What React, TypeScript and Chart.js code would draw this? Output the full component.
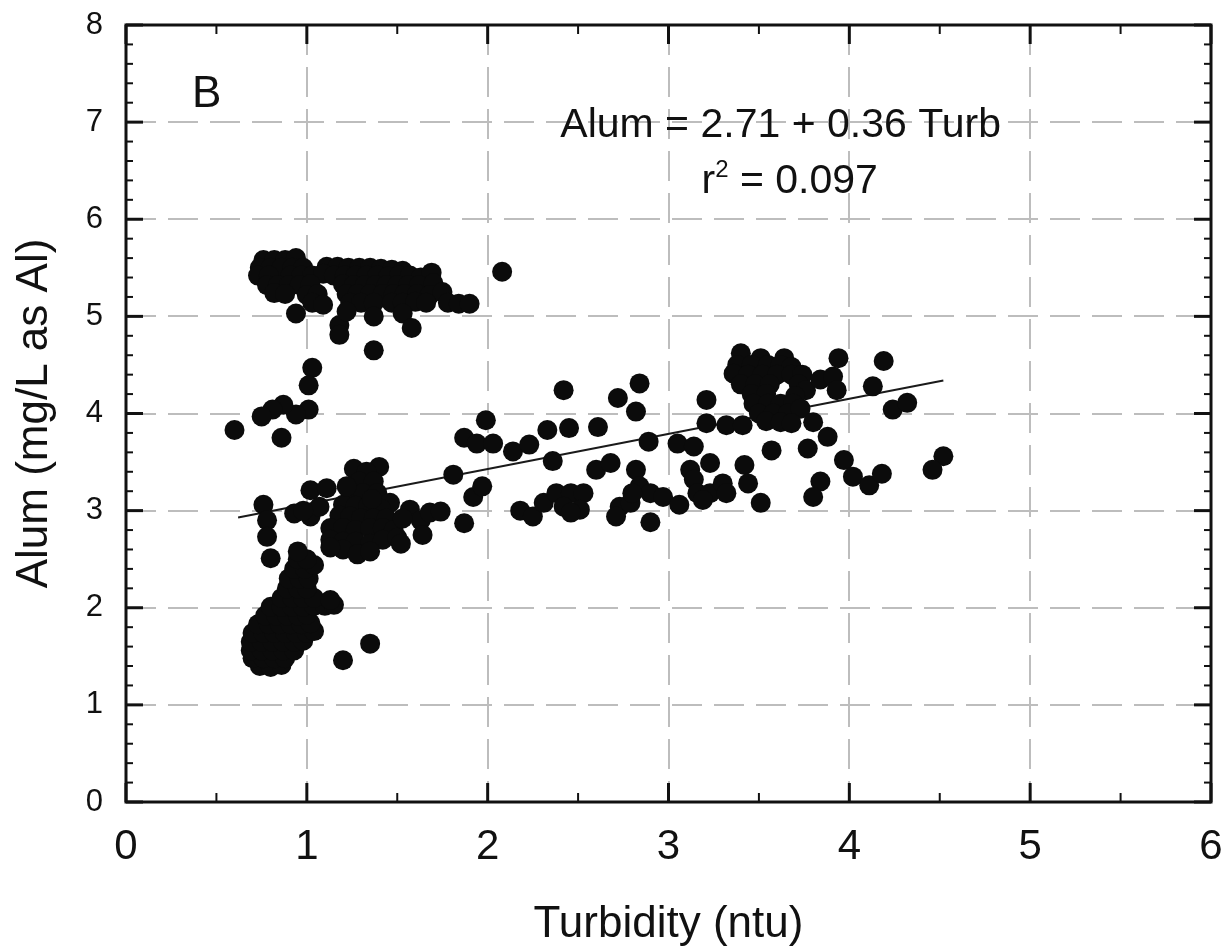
import React, { useEffect, useRef } from 'react';
import { Chart, registerables } from 'chart.js';

Chart.register(...registerables);

// ---- Data (Turbidity ntu, Alum mg/L as Al) ----
const highAlumBand: [number, number][] = [
  [0.76, 5.58], [0.82, 5.58], [0.88, 5.58], [0.94, 5.60],
  [0.74, 5.50], [0.80, 5.50], [0.86, 5.50], [0.92, 5.50], [0.98, 5.50], [1.11, 5.51], [1.17, 5.51],
  [1.23, 5.50], [1.29, 5.50], [1.35, 5.50], [1.41, 5.49], [1.47, 5.48], [1.53, 5.47],
  [0.73, 5.42], [0.79, 5.42], [0.91, 5.42], [0.97, 5.42], [1.03, 5.42], [1.09, 5.44], [1.15, 5.42],
  [1.21, 5.42], [1.27, 5.42], [1.33, 5.42], [1.39, 5.42], [1.45, 5.41], [1.51, 5.42], [1.57, 5.42],
  [1.63, 5.40], [1.69, 5.45],
  [0.78, 5.32], [0.84, 5.32], [0.90, 5.32], [0.96, 5.32], [1.02, 5.33], [1.20, 5.33], [1.26, 5.32],
  [1.32, 5.32], [1.38, 5.32], [1.44, 5.32], [1.50, 5.32], [1.56, 5.32], [1.62, 5.32], [1.70, 5.34],
  [0.82, 5.24], [0.88, 5.23], [1.00, 5.22], [1.06, 5.23], [1.22, 5.23], [1.28, 5.23], [1.35, 5.23],
  [1.42, 5.23], [1.48, 5.23], [1.54, 5.23], [1.61, 5.23], [1.68, 5.22], [1.75, 5.25],
  [1.03, 5.14], [1.09, 5.12], [1.24, 5.14], [1.30, 5.14], [1.37, 5.14], [1.47, 5.14], [1.53, 5.14],
  [1.60, 5.15], [1.66, 5.14], [1.78, 5.14], [1.84, 5.13], [1.90, 5.13],
  [0.94, 5.03], [1.18, 4.91], [1.18, 4.81], [1.22, 5.05], [1.37, 5.00], [1.53, 5.03], [1.58, 4.88],
  [1.37, 4.65], [2.08, 5.46],
];

const midLeftGroup: [number, number][] = [
  [1.03, 4.47], [1.01, 4.29], [1.01, 4.04], [0.94, 3.99], [0.87, 4.09], [0.81, 4.04], [0.75, 3.97],
  [0.60, 3.83], [0.86, 3.75],
];

const lowAlumBlob: [number, number][] = [
  [0.74, 1.40], [0.80, 1.39], [0.86, 1.41],
  [0.70, 1.48], [0.76, 1.48], [0.82, 1.48], [0.88, 1.48],
  [0.69, 1.56], [0.75, 1.56], [0.81, 1.56], [0.87, 1.56], [0.93, 1.56],
  [0.69, 1.65], [0.75, 1.65], [0.81, 1.65], [0.87, 1.65], [0.93, 1.65], [0.98, 1.66],
  [0.70, 1.74], [0.76, 1.74], [0.82, 1.74], [0.88, 1.74], [0.94, 1.74], [1.00, 1.74], [1.04, 1.76],
  [0.73, 1.83], [0.79, 1.83], [0.85, 1.83], [0.91, 1.83], [0.97, 1.83], [1.02, 1.84],
  [0.77, 1.92], [0.83, 1.92], [0.89, 1.92], [0.95, 1.92], [1.00, 1.93],
  [0.80, 2.01], [0.86, 2.01], [0.92, 2.01], [0.98, 2.01], [1.04, 2.02], [1.10, 2.02], [1.15, 2.03],
  [0.86, 2.10], [0.92, 2.10], [0.98, 2.10], [1.04, 2.10], [1.13, 2.08],
  [0.89, 2.20], [0.95, 2.20], [1.00, 2.20],
  [0.90, 2.30], [0.96, 2.30], [1.01, 2.30],
  [0.93, 2.40], [0.99, 2.40], [1.04, 2.44],
  [0.95, 2.50], [1.00, 2.50], [0.95, 2.58],
  [1.35, 1.63], [1.20, 1.46],
];

const nearFitLeft: [number, number][] = [
  [0.76, 3.06], [0.78, 2.90], [0.78, 2.73], [0.80, 2.51],
  [1.02, 3.21], [1.11, 3.23], [0.93, 2.97], [1.02, 2.94], [1.07, 3.04], [0.98, 3.00],
];

const centralBlob: [number, number][] = [
  [1.26, 3.43], [1.40, 3.45], [1.33, 3.40], [1.29, 3.30], [1.37, 3.30], [1.24, 3.18], [1.31, 3.18],
  [1.39, 3.18], [1.46, 3.08], [1.20, 3.06], [1.27, 3.05], [1.34, 3.05], [1.41, 3.02], [1.18, 2.95],
  [1.24, 2.94], [1.30, 2.92], [1.37, 2.92], [1.44, 2.92], [1.13, 2.82], [1.20, 2.82], [1.27, 2.80],
  [1.35, 2.82], [1.42, 2.82], [1.48, 2.80], [1.13, 2.70], [1.20, 2.68], [1.27, 2.68], [1.35, 2.66],
  [1.42, 2.70], [1.50, 2.72], [1.20, 2.60], [1.28, 2.55], [1.35, 2.58], [1.13, 2.62], [1.22, 3.25],
  [1.36, 3.12],
  [1.57, 3.01], [1.63, 2.90], [1.64, 2.75], [1.52, 2.66], [1.53, 2.92], [1.68, 2.98], [1.74, 2.99],
  [1.87, 2.87], [1.81, 3.37], [1.92, 3.14], [1.97, 3.25],
];

const midRange: [number, number][] = [
  [1.99, 3.93], [1.87, 3.75], [1.94, 3.69], [2.03, 3.69], [2.14, 3.61], [2.23, 3.68], [2.33, 3.83],
  [2.36, 3.51], [2.18, 3.00], [2.25, 2.94], [2.31, 3.08],
  [2.42, 4.24], [2.45, 3.85], [2.61, 3.86], [2.72, 4.16], [2.84, 4.31], [2.82, 4.02], [2.60, 3.42],
  [2.68, 3.49], [2.38, 3.18], [2.46, 3.18], [2.53, 3.18], [2.42, 3.04], [2.51, 3.01], [2.46, 2.98],
  [2.82, 3.42], [2.84, 3.25], [2.90, 3.18], [2.73, 3.04], [2.71, 2.94], [2.79, 3.08], [2.90, 2.88],
  [2.97, 3.14], [3.06, 3.06], [2.80, 3.18],
];

const highTurbidity: [number, number][] = [
  [2.89, 3.71], [3.05, 3.69], [3.14, 3.66], [3.12, 3.42], [3.23, 3.49], [3.14, 3.32], [3.16, 3.18],
  [3.23, 3.18], [3.30, 3.28], [3.32, 3.18], [3.19, 3.11], [3.42, 3.47], [3.44, 3.28], [3.51, 3.08],
  [3.57, 3.62], [3.21, 4.14], [3.21, 3.90], [3.32, 3.88], [3.41, 3.88],
  [3.40, 4.62], [3.51, 4.57], [3.64, 4.57],
  [3.38, 4.50], [3.46, 4.50], [3.55, 4.50], [3.62, 4.50], [3.68, 4.48],
  [3.36, 4.41], [3.44, 4.40], [3.52, 4.40], [3.60, 4.40], [3.68, 4.40], [3.74, 4.40],
  [3.40, 4.30], [3.48, 4.30], [3.56, 4.30], [3.72, 4.30], [3.76, 4.24],
  [3.46, 4.20], [3.54, 4.20], [3.70, 4.18],
  [3.47, 4.10], [3.55, 4.10], [3.62, 4.10], [3.69, 4.10],
  [3.50, 4.00], [3.58, 4.00], [3.66, 4.00], [3.73, 4.05],
  [3.54, 3.92], [3.62, 3.91], [3.68, 3.90],
  [3.84, 4.35], [3.91, 4.38], [3.94, 4.57], [3.93, 4.24], [3.80, 3.91], [3.88, 3.76], [3.77, 3.64],
  [3.97, 3.52], [4.02, 3.35], [4.11, 3.26], [4.18, 3.38], [3.84, 3.30], [3.80, 3.14], [4.19, 4.54],
  [4.13, 4.28], [4.24, 4.04], [4.32, 4.11], [4.52, 3.56], [4.46, 3.42],
];

// regression line endpoints: Alum = 2.71 + 0.36 Turb
const fitLine: [number, number][] = [[0.62, 2.93], [4.52, 4.34]];

const xTickValues = [0, 1, 2, 3, 4, 5, 6];
const yTickValues = [0, 1, 2, 3, 4, 5, 6, 7, 8];

const FONT = '"Liberation Sans", Arial, Helvetica, sans-serif';

const allPoints = [
  ...highAlumBand, ...midLeftGroup, ...lowAlumBlob, ...nearFitLeft,
  ...centralBlob, ...midRange, ...highTurbidity,
];

const framePlugin = {
  id: 'frameTicks',
  afterDraw(chart: any) {
    const { ctx, chartArea: a, scales } = chart;
    const xs = scales.x;
    const ys = scales.y;
    ctx.save();
    ctx.strokeStyle = '#111';
    ctx.lineCap = 'butt';
    const seg = (x1: number, y1: number, x2: number, y2: number, w: number) => {
      ctx.lineWidth = w;
      ctx.beginPath();
      ctx.moveTo(x1, y1);
      ctx.lineTo(x2, y2);
      ctx.stroke();
    };
    // x ticks (inward, bottom and top)
    for (let i = 0; i <= 12; i++) {
      const v = i / 2;
      const p = xs.getPixelForValue(v);
      const major = i % 2 === 0;
      const len = major ? 19 : 9;
      const w = major ? 3 : 2;
      seg(p, a.bottom, p, a.bottom - len, w);
      seg(p, a.top, p, a.top + len, w);
    }
    // y ticks (inward, left and right)
    for (let i = 0; i <= 40; i++) {
      const v = i / 5;
      const p = ys.getPixelForValue(v);
      const major = i % 5 === 0;
      const len = major ? 17 : 7;
      const w = major ? 3 : 2;
      seg(a.left, p, a.left + len, p, w);
      seg(a.right, p, a.right - len, p, w);
    }
    // frame
    ctx.lineWidth = 3;
    ctx.strokeRect(a.left, a.top, a.right - a.left, a.bottom - a.top);

    // annotations
    ctx.fillStyle = '#111';
    ctx.textBaseline = 'alphabetic';
    ctx.font = `44px ${FONT}`;
    ctx.textAlign = 'left';
    ctx.fillText('B', xs.getPixelForValue(0.365), ys.getPixelForValue(7.16));

    ctx.font = `41px ${FONT}`;
    ctx.textAlign = 'center';
    ctx.fillText('Alum = 2.71 + 0.36 Turb', xs.getPixelForValue(3.62), ys.getPixelForValue(6.85));

    // r² = 0.097
    const rText = 'r';
    const supText = '2';
    const restText = ' = 0.097';
    ctx.font = `41px ${FONT}`;
    const wr = ctx.measureText(rText).width;
    const wrest = ctx.measureText(restText).width;
    ctx.font = `24px ${FONT}`;
    const ws = ctx.measureText(supText).width;
    const total = wr + ws + wrest;
    const cx = xs.getPixelForValue(3.67);
    const base = ys.getPixelForValue(6.27);
    let x0 = cx - total / 2;
    ctx.textAlign = 'left';
    ctx.font = `41px ${FONT}`;
    ctx.fillText(rText, x0, base);
    x0 += wr;
    ctx.font = `24px ${FONT}`;
    ctx.fillText(supText, x0, base - 16);
    x0 += ws;
    ctx.font = `41px ${FONT}`;
    ctx.fillText(restText, x0, base);
    ctx.restore();
  },
};

export default function App() {
  const canvasRef = useRef<HTMLCanvasElement | null>(null);

  useEffect(() => {
    const canvas = canvasRef.current;
    if (!canvas) return;
    const chart = new Chart(canvas, {
      type: 'scatter',
      data: {
        datasets: [
          {
            type: 'line',
            label: 'Regression',
            data: fitLine.map(([x, y]) => ({ x, y })),
            borderColor: '#1a1a1a',
            borderWidth: 2,
            pointRadius: 0,
            fill: false,
            order: 2,
          } as any,
          {
            label: 'Observations',
            data: allPoints.map(([x, y]) => ({ x, y })),
            backgroundColor: '#0b0b0b',
            borderColor: '#0b0b0b',
            borderWidth: 0,
            pointRadius: 10,
            pointHoverRadius: 10,
            order: 1,
          },
        ],
      },
      options: {
        responsive: false,
        animation: false,
        devicePixelRatio: 1,
        layout: { padding: { top: 25, right: 11, left: 0, bottom: 0 } },
        plugins: {
          legend: { display: false },
          tooltip: { enabled: false },
        },
        scales: {
          x: {
            type: 'linear',
            min: 0,
            max: 6,
            afterBuildTicks: (s: any) => {
              s.ticks = xTickValues.map((v) => ({ value: v }));
            },
            ticks: {
              padding: 20,
              color: '#111',
              font: { family: FONT, size: 42 },
              callback: (v: any) => String(v),
            },
            grid: { color: '#bdbdbd', lineWidth: 2, drawTicks: false },
            border: { display: false, dash: [30, 12] },
            title: {
              display: true,
              text: 'Turbidity (ntu)',
              color: '#111',
              font: { family: FONT, size: 44, lineHeight: 1 },
              padding: { top: 0, bottom: 1 },
            },
            afterFit: (s: any) => {
              s.height = 146;
              s.paddingLeft = 0;
              s.paddingRight = 0;
            },
          },
          y: {
            type: 'linear',
            min: 0,
            max: 8,
            afterBuildTicks: (s: any) => {
              s.ticks = yTickValues.map((v) => ({ value: v }));
            },
            ticks: {
              padding: 23,
              color: '#111',
              font: { family: FONT, size: 31 },
              callback: (v: any) => String(v),
            },
            grid: { color: '#bdbdbd', lineWidth: 2, drawTicks: false },
            border: { display: false, dash: [30, 12] },
            title: {
              display: true,
              text: 'Alum (mg/L as Al)',
              color: '#111',
              font: { family: FONT, size: 44, lineHeight: 1 },
              padding: { top: 13, bottom: 0 },
            },
            afterFit: (s: any) => {
              s.width = 126;
              s.paddingTop = 0;
              s.paddingBottom = 0;
            },
          },
        },
      } as any,
      plugins: [framePlugin],
    });
    return () => chart.destroy();
  }, []);

  return (
    <div style={{ position: 'fixed', left: 0, top: 0, width: 1222, height: 948, background: '#fff' }}>
      <canvas ref={canvasRef} width={1222} height={948} style={{ display: 'block' }} />
    </div>
  );
}
